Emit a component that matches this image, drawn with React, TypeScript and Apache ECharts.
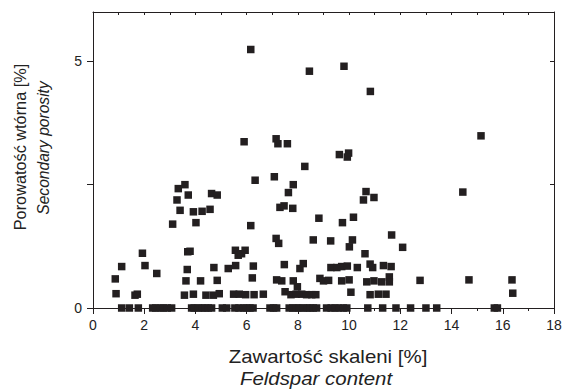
import React, { useEffect, useRef } from "react";
import * as echarts from "echarts";

const xTicks = [0, 2, 4, 6, 8, 10, 12, 14, 16, 18];
const yLabelValues = [0, 5];
const yTickValues = [0, 2.5, 5];

// Feldspar content [%] (x) and secondary porosity [%] (y)
const feldspar = [
  // zero porosity row
  1.12, 1.42, 1.77, 2.33, 2.45, 2.62, 2.75, 2.9, 3.07, 3.85, 3.95, 4.11, 4.25, 4.37, 4.5, 4.63, 5.05, 5.22, 5.54, 5.7, 5.87, 6.0, 6.13, 6.25,
  6.91, 7.05, 7.17, 7.66, 7.8, 7.95, 8.05, 8.21, 8.35, 8.47, 8.6, 8.73, 9.12, 9.3, 9.45, 9.6, 9.77, 9.91, 10.73, 11.31, 11.83, 12.4, 13.0,
  13.42, 15.67, 15.79,
  // others
  6.16, 8.45, 9.8, 10.83, 15.15, 5.9, 7.15, 7.22, 7.59, 9.62, 9.98, 9.93,
  8.27, 7.08, 6.33, 3.59, 3.33, 7.82, 3.72, 4.63, 4.85, 7.63, 3.28, 3.4, 3.92, 4.26, 4.57, 7.3, 7.46, 7.8, 4.02, 3.11, 6.16, 8.82,
  7.15, 7.25, 8.6, 9.28,
  1.93, 2.03, 1.12, 0.87, 0.9, 2.49, 3.7, 3.79, 3.68, 3.63, 3.57, 3.92, 4.2, 4.72, 4.85, 4.41, 4.7, 4.93, 1.64, 1.73, 5.28, 5.56, 5.57,
  5.67, 5.8, 5.94, 6.26, 6.22, 5.49, 5.71, 5.96, 6.29, 6.65, 7.17, 7.37, 7.47, 7.5, 7.82, 7.73, 7.98, 7.93, 8.08, 8.21, 8.15, 8.34,
  8.54, 8.7, 8.86, 9.0, 9.2,
  14.44, 10.66, 10.56, 10.97, 9.74, 10.17, 10.13, 10.01, 11.66, 12.09, 10.62,
  9.29, 9.52, 9.71, 9.93, 10.32, 10.82, 10.92, 11.34, 11.64,
  9.71, 10.0, 10.69, 10.97, 11.27, 11.57, 11.57, 12.77, 14.68, 16.36, 16.39, 10.07, 10.82, 11.14, 11.44,
];

const porosity = [
  0, 0, 0, 0, 0, 0, 0, 0, 0, 0, 0, 0, 0, 0, 0, 0, 0, 0, 0, 0, 0, 0, 0, 0,
  0, 0, 0, 0, 0, 0, 0, 0, 0, 0, 0, 0, 0, 0, 0, 0, 0, 0, 0, 0, 0, 0, 0,
  0, 0, 0,
  5.24, 4.8, 4.9, 4.39, 3.49, 3.37, 3.43, 3.33, 3.33, 3.11, 3.14, 3.06,
  2.87, 2.66, 2.59, 2.5, 2.42, 2.5, 2.29, 2.32, 2.29, 2.34, 2.19, 1.98, 1.95, 1.96, 2.0, 2.04, 2.07, 2.02, 1.73, 1.7, 1.67, 1.82,
  1.41, 1.31, 1.38, 1.36,
  1.11, 0.86, 0.84, 0.59, 0.29, 0.7, 1.14, 1.15, 0.78, 0.55, 0.26, 0.28, 0.55, 0.82, 0.56, 0.26, 0.26, 0.29, 0.26, 0.28, 0.8, 1.17, 0.86,
  1.07, 1.1, 1.17, 0.85, 0.61, 0.28, 0.28, 0.27, 0.27, 0.28, 0.57, 0.55, 0.88, 0.33, 0.55, 0.27, 0.43, 0.28, 0.8, 0.9, 0.28, 0.27,
  0.27, 0.27, 0.6, 0.55, 0.56,
  2.35, 2.36, 2.19, 2.24, 1.73, 1.84, 1.38, 1.24, 1.48, 1.23, 1.1,
  0.82, 0.82, 0.84, 0.85, 0.82, 0.89, 0.82, 0.86, 0.84,
  0.55, 0.57, 0.53, 0.55, 0.53, 0.63, 0.53, 0.56, 0.57, 0.57, 0.3, 0.32, 0.27, 0.28, 0.28,
];

const FONT = "'Liberation Sans', Arial, sans-serif";
const INK = "#231f20";
const TEXT = "#222222";

export default function App() {
  const ref = useRef<HTMLDivElement>(null);
  useEffect(() => {
    if (!ref.current) return;
    const chart = echarts.init(ref.current, undefined, { renderer: "svg" });
    const data = feldspar.map((x, i) => [x, porosity[i]]);
    const axisLine = { show: true, onZero: false, lineStyle: { color: INK, width: 1 } };
    chart.setOption({
      animation: false,
      backgroundColor: "#ffffff",
      grid: { left: 93, right: 11, top: 12, bottom: 83 },
      xAxis: [
        {
          type: "value",
          min: 0,
          max: 18,
          interval: 2,
          position: "bottom",
          axisLine,
          axisTick: { show: true, length: 6, inside: false, lineStyle: { color: INK } },
          minorTick: { show: true, splitNumber: 2, length: 3, lineStyle: { color: INK } },
          splitLine: { show: false },
          axisLabel: {
            customValues: xTicks,
            color: TEXT,
            fontFamily: FONT,
            fontSize: 14,
            margin: 10,
          },
        },
        {
          type: "value",
          min: 0,
          max: 18,
          interval: 1,
          position: "top",
          axisLine,
          axisTick: { show: true, length: 3, inside: true, lineStyle: { color: INK } },
          splitLine: { show: false },
          axisLabel: { show: false },
        },
      ],
      yAxis: [
        {
          type: "value",
          min: 0,
          max: 6,
          position: "left",
          axisLine,
          axisTick: { show: true, length: 6, inside: false, customValues: yTickValues, lineStyle: { color: INK } },
          splitLine: { show: false },
          axisLabel: {
            customValues: yLabelValues,
            color: TEXT,
            fontFamily: FONT,
            fontSize: 14,
            margin: 11,
          },
        },
        {
          type: "value",
          min: 0,
          max: 6,
          position: "right",
          axisLine,
          axisTick: { show: true, length: 4, inside: true, customValues: yTickValues, lineStyle: { color: INK } },
          splitLine: { show: false },
          axisLabel: { show: false },
        },
      ],
      series: [
        {
          type: "scatter",
          xAxisIndex: 0,
          yAxisIndex: 0,
          symbol: "rect",
          symbolSize: 7.5,
          itemStyle: { color: INK, opacity: 1 },
          data,
        },
      ],
      graphic: [
        {
          type: "text",
          x: 328,
          y: 357,
          scaleX: 1.155,
          style: {
            text: "Zawartość skaleni [%]",
            font: `17.7px ${FONT}`,
            fill: TEXT,
            align: "center",
            verticalAlign: "middle",
          },
        },
        {
          type: "text",
          x: 316,
          y: 379,
          scaleX: 1.155,
          style: {
            text: "Feldspar content",
            font: `italic 17.7px ${FONT}`,
            fill: TEXT,
            align: "center",
            verticalAlign: "middle",
          },
        },
        {
          type: "text",
          x: 20,
          y: 147,
          rotation: Math.PI / 2,
          style: {
            text: "Porowatość wtórna [%]",
            font: `16.3px ${FONT}`,
            fill: TEXT,
            align: "center",
            verticalAlign: "middle",
          },
        },
        {
          type: "text",
          x: 43,
          y: 148,
          rotation: Math.PI / 2,
          style: {
            text: "Secondary porosity",
            font: `italic 15.6px ${FONT}`,
            fill: TEXT,
            align: "center",
            verticalAlign: "middle",
          },
        },
      ],
    });
    return () => chart.dispose();
  }, []);
  return (
    <div
      ref={ref}
      style={{ position: "absolute", left: 0, top: 0, width: 565, height: 391 }}
    />
  );
}
